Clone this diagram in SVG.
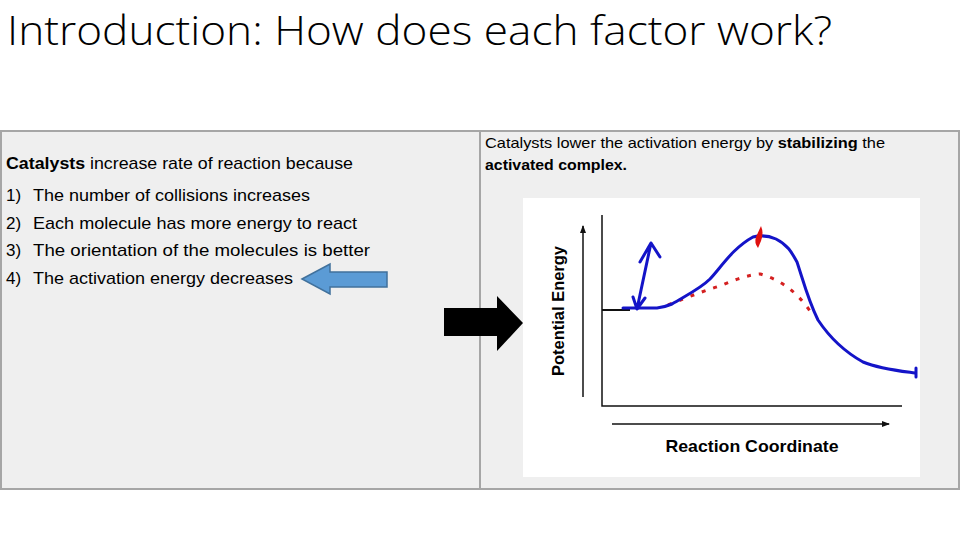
<svg xmlns="http://www.w3.org/2000/svg" width="960" height="540" viewBox="0 0 960 540">
<style>
.t{font-family:"Liberation Sans",Arial,sans-serif;fill:#000}
.title{font-family:"Open Sans","Liberation Sans",sans-serif;font-weight:300;fill:#000}
.b{font-weight:bold}
.cell{fill:#efefef;stroke:#a6a6a6;stroke-width:2}
.ax{fill:none;stroke:#111;stroke-width:1.5}
.blue{fill:none;stroke:#1414c8;stroke-width:3;stroke-linecap:round;stroke-linejoin:round}
</style>
<defs>
<marker id="ah" markerWidth="8" markerHeight="6" refX="7" refY="3" orient="auto" markerUnits="userSpaceOnUse">
<path d="M0,0 L8,3 L0,6 Z" fill="#111"/>
</marker>
</defs>
<rect width="960" height="540" fill="#fff"/>
<g id="title">
<text class="title" x="7" y="45" font-size="41" textLength="825" lengthAdjust="spacingAndGlyphs">Introduction: How does each factor work?</text>
</g>
<g id="table">
<rect class="cell" x="1" y="131" width="479" height="358"/>
<rect class="cell" x="480" y="131" width="479" height="358"/>
</g>
<g id="left-text" font-size="17">
<text class="t" x="6" y="169" textLength="347" lengthAdjust="spacingAndGlyphs"><tspan class="b">Catalysts</tspan> increase rate of reaction because</text>
<text class="t" x="6" y="201">1)</text>
<text class="t" x="33" y="201" textLength="277" lengthAdjust="spacingAndGlyphs">The number of collisions increases</text>
<text class="t" x="6" y="229">2)</text>
<text class="t" x="33" y="229" textLength="324" lengthAdjust="spacingAndGlyphs">Each molecule has more energy to react</text>
<text class="t" x="6" y="256">3)</text>
<text class="t" x="33" y="256" textLength="337" lengthAdjust="spacingAndGlyphs">The orientation of the molecules is better</text>
<text class="t" x="6" y="284">4)</text>
<text class="t" x="33" y="284" textLength="260" lengthAdjust="spacingAndGlyphs">The activation energy decreases</text>
</g>
<g id="blue-arrow">
<polygon points="302,279 330,264 330,272 387,272 387,287 330,287 330,294" fill="#5b9bd5" stroke="#41719c" stroke-width="1.5"/>
</g>
<g id="right-text" font-size="15">
<text class="t" x="485" y="148" textLength="400" lengthAdjust="spacingAndGlyphs">Catalysts lower the activation energy by <tspan class="b">stabilizing</tspan> the</text>
<text class="t b" x="485" y="170" textLength="142" lengthAdjust="spacingAndGlyphs">activated complex.</text>
</g>
<g id="black-arrow">
<polygon points="444,308 497,308 497,296 523,323 497,351 497,336 444,336" fill="#000"/>
</g>
<g id="chart">
<rect x="523" y="198" width="397" height="279" fill="#fff"/>
<path class="ax" d="M602,215 V406 H902"/>
<line x1="583" y1="397" x2="583" y2="226" stroke="#111" stroke-width="1.5" marker-end="url(#ah)"/>
<line x1="612" y1="424" x2="889" y2="424" stroke="#111" stroke-width="1.5" marker-end="url(#ah)"/>
<line x1="602" y1="310" x2="630" y2="310" stroke="#111" stroke-width="2"/>
<text class="t b" transform="translate(564,311) rotate(-90)" text-anchor="middle" font-size="16" textLength="130" lengthAdjust="spacingAndGlyphs">Potential Energy</text>
<text class="t b" x="752" y="452" text-anchor="middle" font-size="17" textLength="173" lengthAdjust="spacingAndGlyphs">Reaction Coordinate</text>
<path d="M668,305 Q700,292 720,286 Q745,275 760,274 Q790,282 810,311" fill="none" stroke="#d42020" stroke-width="3" stroke-dasharray="4 8"/>
<path class="blue" d="M623,308 L657,308 Q665,307 672,304 C685,296 700,289 710,279 C722,266 733,248 753,237 Q765,234 776,239 C788,245 792,253 797,262 C803,280 808,300 818,320 C830,338 845,352 863,362 C880,369 900,371 915,373"/>
<line class="blue" x1="916" y1="368" x2="916" y2="377" stroke-width="2"/>
<path class="blue" d="M637,309 L651,243 M640,262 L651,243 L660,257 M633,297 L637,309 L645,298"/>
<path d="M761,226 Q764,233 761,241 L758,248 Q754,243 756,237 Z" fill="#e01010"/>
</g>
</svg>
